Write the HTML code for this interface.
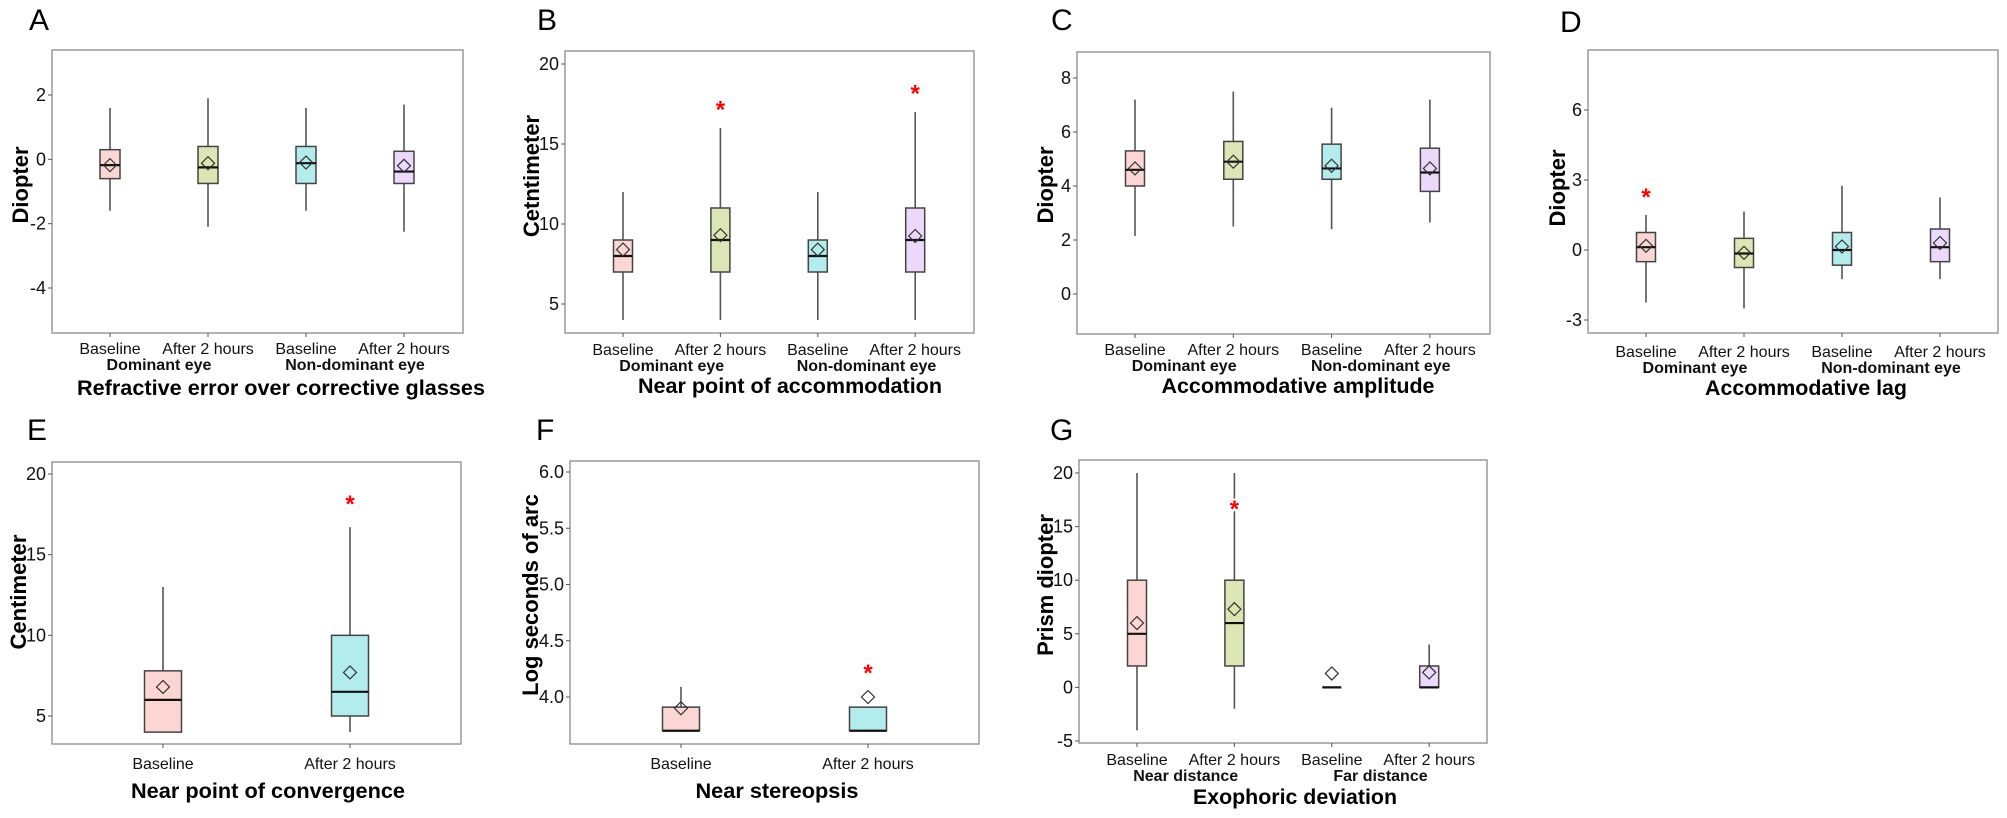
<!DOCTYPE html>
<html><head><meta charset="utf-8"><style>
html,body{margin:0;padding:0;background:#fff;}
svg{display:block;font-family:"Liberation Sans",Arial,sans-serif;}
</style></head><body>
<svg id="fig" width="2007" height="818" viewBox="0 0 2007 818" xmlns="http://www.w3.org/2000/svg"></svg>
<script>
// ---- Panel A data ----
const aCats=["Baseline","After 2 hours","Baseline","After 2 hours"];
const aLow=[-1.6,-2.1,-1.6,-2.25];
const aQ1=[-0.6,-0.75,-0.75,-0.75];
const aMed=[-0.18,-0.25,-0.12,-0.38];
const aQ3=[0.3,0.4,0.4,0.25];
const aHigh=[1.6,1.9,1.6,1.7];
const aMean=[-0.18,-0.12,-0.1,-0.2];
const aTicks=[2,0,-2,-4];
// ---- Panel B data ----
const bCats=["Baseline","After 2 hours","Baseline","After 2 hours"];
const bLow=[4,4,4,4];
const bQ1=[7,7,7,7];
const bMed=[8,9,8,9];
const bQ3=[9,11,9,11];
const bHigh=[12,16,12,17];
const bMean=[8.4,9.3,8.4,9.25];
const bStars=[null,17.4,null,18.4];
const bTicks=[20,15,10,5];
// ---- Panel C data ----
const cCats=["Baseline","After 2 hours","Baseline","After 2 hours"];
const cLow=[2.15,2.5,2.4,2.65];
const cQ1=[4.0,4.25,4.25,3.8];
const cMed=[4.6,4.9,4.65,4.5];
const cQ3=[5.3,5.65,5.55,5.4];
const cHigh=[7.2,7.5,6.9,7.2];
const cMean=[4.65,4.9,4.75,4.65];
const cTicks=[8,6,4,2,0];
// ---- Panel D data ----
const dCats=["Baseline","After 2 hours","Baseline","After 2 hours"];
const dLow=[-2.25,-2.5,-1.25,-1.25];
const dQ1=[-0.5,-0.75,-0.65,-0.5];
const dMed=[0.12,-0.15,0,0.12];
const dQ3=[0.75,0.5,0.75,0.9];
const dHigh=[1.5,1.65,2.75,2.25];
const dMean=[0.18,-0.12,0.15,0.3];
const dStars=[2.45,null,null,null];
const dTicks=[6,3,0,-3];
// ---- Panel E data ----
const eCats=["Baseline","After 2 hours"];
const eLow=[4,4];
const eQ1=[4,5];
const eMed=[6,6.5];
const eQ3=[7.8,10];
const eHigh=[13,16.7];
const eMean=[6.8,7.7];
const eStars=[null,18.4];
const eTicks=[20,15,10,5];
// ---- Panel F data ----
const fCats=["Baseline","After 2 hours"];
const fLow=[3.7,3.7];
const fQ1=[3.7,3.7];
const fMed=[3.7,3.7];
const fQ3=[3.91,3.91];
const fHigh=[4.09,3.91];
const fMean=[3.9,4.0];
const fStars=[null,4.25];
const fTicks=[6.0,5.5,5.0,4.5,4.0];
// ---- Panel G data ----
const gCats=["Baseline","After 2 hours","Baseline","After 2 hours"];
const gLow=[-4,-2,0,0];
const gQ1=[2,2,0,0];
const gMed=[5,6,0,0];
const gQ3=[10,10,0,2];
const gHigh=[20,20,0,4];
const gMean=[6,7.3,1.3,1.4];
const gStars=[null,17,null,null];
const gTicks=[20,15,10,5,0,-5];

const NS="http://www.w3.org/2000/svg";
const svg=document.getElementById('fig');
function mk(tag,attrs,parent,txt){const e=document.createElementNS(NS,tag);for(const k in attrs)e.setAttribute(k,attrs[k]);if(txt!==undefined)e.textContent=txt;(parent||svg).appendChild(e);return e;}
const FILL4=["#fbd6d3","#dbe6b4","#b3ecec","#ebd8fb"];
const FILL2=["#fbd6d3","#b3ecec"];

function panel(p){
  const g=mk('g',{});
  
  
  const y=v=>p.y1px+(v-p.v1)*(p.y2px-p.y1px)/(p.v2-p.v1);
  const n=p.cats.length;
  const x=i=>p.cx0+i*p.dx;
  const lbl=mk('text',{x:p.lx,y:p.ly,'font-size':30,fill:'#000'},g,p.id);
  
  
  const fr=mk('rect',{x:p.x0,y:p.y0,width:p.x1-p.x0,height:p.y1-p.y0,fill:'#fff',stroke:'#9a9a9a','stroke-width':1.5},g);
  
  
  p.ticks.forEach(t=>{
    const ty=y(t);
    const tk=mk('line',{x1:p.x0-4,x2:p.x0,y1:ty,y2:ty,stroke:'#555','stroke-width':1},g);
    
    
    const tl=mk('text',{x:p.x0-6,y:ty+6,'font-size':18,'text-anchor':'end',fill:'#111'},g,p.dec?t.toFixed(1):String(t));
    
    
  });
  const yt=mk('text',{x:0,y:0,'font-size':22,'font-weight':'bold','text-anchor':'middle',transform:`translate(${p.ytx},${p.yty}) rotate(-90)`},g,p.ytitle);
  
  
  const fills=n===4?FILL4:FILL2;
  for(let i=0;i<n;i++){
    const cx=x(i),w=p.bw;
    const tk=mk('line',{x1:cx,x2:cx,y1:p.y1,y2:p.y1+4,stroke:'#555','stroke-width':1},g);
    
    
    const cl=mk('text',{x:cx,y:p.catY,'font-size':16,'text-anchor':'middle',fill:'#111'},g,p.cats[i]);
    
    
    if(p.high[i]>p.q3[i]){
      const wu=mk('line',{x1:cx,x2:cx,y1:y(p.high[i]),y2:y(p.q3[i]),stroke:'#555','stroke-width':1.6},g);
      
      
    }
    if(p.low[i]<p.q1[i]){
      const wl=mk('line',{x1:cx,x2:cx,y1:y(p.q1[i]),y2:y(p.low[i]),stroke:'#555','stroke-width':1.6},g);
      
      
    }
    if(p.q3[i]>p.q1[i]){
      const bx=mk('rect',{x:cx-w/2,y:y(p.q3[i]),width:w,height:y(p.q1[i])-y(p.q3[i]),fill:fills[i],stroke:'#444','stroke-width':1.5},g);
      
      
    }
    const md=mk('line',{x1:cx-w/2,x2:cx+w/2,y1:y(p.med[i]),y2:y(p.med[i]),stroke:'#111','stroke-width':2.2},g);
    
    
    const my=y(p.mean[i]),r=6.5;
    const dm=mk('polygon',{points:`${cx},${my-r} ${cx+r},${my} ${cx},${my+r} ${cx-r},${my}`,fill:'none',stroke:'#333','stroke-width':1.2},g);
    
    
    if(p.stars && p.stars[i]!=null){
      const sy=y(p.stars[i]);
      const st=mk('text',{x:cx,y:sy+12,'font-size':24,'font-weight':'bold','text-anchor':'middle',fill:'#f00',stroke:'#fff','stroke-width':4,'paint-order':'stroke'},g,'*');
      
      
    }
  }
  if(p.groups){
    p.groups.forEach((gl,j)=>{
      const gx=(x(2*j)+x(2*j+1))/2;
      const t=mk('text',{x:gx,y:p.catY+16,'font-size':16,'font-weight':'bold','text-anchor':'middle',fill:'#111'},g,gl);
      
      
    });
  }
  const xt=mk('text',{x:p.ttx,y:p.tty,'font-size':21,'font-weight':'bold','text-anchor':'middle',fill:'#000',textLength:p.ttw,lengthAdjust:'spacingAndGlyphs'},g,p.title);
  
  
}

const eyes=["Dominant eye","Non-dominant eye"];
panel({id:'A',lx:29,ly:30,x0:52,x1:463,y0:50,y1:333,v1:2,y1px:95,v2:-4,y2px:288,cx0:110,dx:98,bw:20,
  cats:aCats,low:aLow,q1:aQ1,med:aMed,q3:aQ3,high:aHigh,mean:aMean,ticks:aTicks,groups:eyes,
  ytitle:'Diopter',ytx:28,yty:185,catY:354,title:'Refractive error over corrective glasses',ttx:281,tty:395,ttw:408});
panel({id:'B',lx:537,ly:30,x0:565,x1:974,y0:51,y1:333,v1:20,y1px:64,v2:5,y2px:304,cx0:623,dx:97.4,bw:19,
  cats:bCats,low:bLow,q1:bQ1,med:bMed,q3:bQ3,high:bHigh,mean:bMean,stars:bStars,ticks:bTicks,groups:eyes,
  ytitle:'Cetntimeter',ytx:539,yty:176,catY:355,title:'Near point of accommodation',ttx:790,tty:393,ttw:304});
panel({id:'C',lx:1051,ly:30,x0:1077,x1:1490,y0:52,y1:334,v1:8,y1px:78,v2:0,y2px:294,cx0:1135,dx:98.3,bw:19,
  cats:cCats,low:cLow,q1:cQ1,med:cMed,q3:cQ3,high:cHigh,mean:cMean,ticks:cTicks,groups:eyes,
  ytitle:'Diopter',ytx:1053,yty:185,catY:355,title:'Accommodative amplitude',ttx:1298,tty:393,ttw:273});
panel({id:'D',lx:1560,ly:32,x0:1588,x1:1998,y0:50,y1:333,v1:6,y1px:110,v2:-3,y2px:320,cx0:1646,dx:98,bw:19,
  cats:dCats,low:dLow,q1:dQ1,med:dMed,q3:dQ3,high:dHigh,mean:dMean,stars:dStars,ticks:dTicks,groups:eyes,
  ytitle:'Diopter',ytx:1565,yty:188,catY:357,title:'Accommodative lag',ttx:1806,tty:395,ttw:202});
panel({id:'E',lx:27,ly:440,x0:52,x1:461,y0:462,y1:744,v1:20,y1px:474,v2:5,y2px:716,cx0:163,dx:187,bw:37,
  cats:eCats,low:eLow,q1:eQ1,med:eMed,q3:eQ3,high:eHigh,mean:eMean,stars:eStars,ticks:eTicks,
  ytitle:'Centimeter',ytx:26,yty:592,catY:769,title:'Near point of convergence',ttx:268,tty:798,ttw:274});
panel({id:'F',lx:536,ly:440,x0:570,x1:979,y0:461,y1:744,v1:6,y1px:472,v2:4,y2px:697,cx0:681,dx:187,bw:37,dec:true,
  cats:fCats,low:fLow,q1:fQ1,med:fMed,q3:fQ3,high:fHigh,mean:fMean,stars:fStars,ticks:fTicks,
  ytitle:'Log seconds of arc',ytx:538,yty:595,catY:769,title:'Near stereopsis',ttx:777,tty:798,ttw:163});
panel({id:'G',lx:1050,ly:440,x0:1079,x1:1487,y0:460,y1:743,v1:20,y1px:473,v2:-5,y2px:741,cx0:1137,dx:97.4,bw:19,
  cats:gCats,low:gLow,q1:gQ1,med:gMed,q3:gQ3,high:gHigh,mean:gMean,stars:gStars,ticks:gTicks,groups:["Near distance","Far distance"],
  ytitle:'Prism diopter',ytx:1053,yty:585,catY:765,title:'Exophoric deviation',ttx:1295,tty:804,ttw:204});
</script>
</body></html>
